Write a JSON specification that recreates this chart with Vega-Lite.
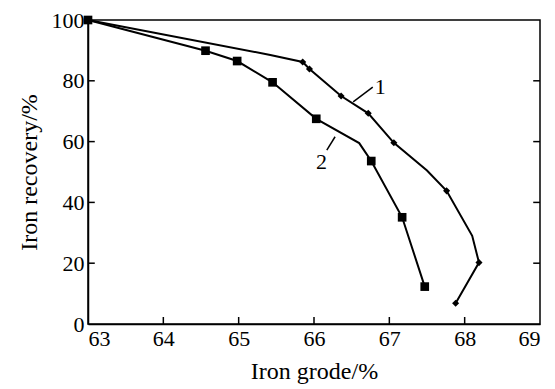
{
  "$schema": "https://vega.github.io/schema/vega-lite/v6.json",
  "width": 452,
  "height": 304,
  "autosize": "none",
  "padding": {"left": 88, "top": 20, "right": 15, "bottom": 65},
  "background": "white",
  "config": {
    "view": {"stroke": "black", "strokeWidth": 1.5},
    "font": "Liberation Serif",
    "axis": {
      "domainColor": "black", "domainWidth": 1.5, "ticks": false,
      "grid": false, "labelFont": "Liberation Serif", "labelFontSize": 22, "labelColor": "black",
      "titleFont": "Liberation Serif", "titleFontSize": 24, "titleFontWeight": "normal", "titleColor": "black"
    }
  },
  "datasets": {
    "c1": [
      {"x": 63.0, "y": 100.0, "m": 1},
      {"x": 65.42, "y": 88.5, "m": 0},
      {"x": 65.85, "y": 86.2, "m": 1},
      {"x": 65.94, "y": 83.9, "m": 1},
      {"x": 66.36, "y": 75.0, "m": 1},
      {"x": 66.72, "y": 69.3, "m": 1},
      {"x": 67.06, "y": 59.6, "m": 1},
      {"x": 67.5, "y": 50.5, "m": 0},
      {"x": 67.76, "y": 43.8, "m": 1},
      {"x": 68.1, "y": 29.0, "m": 0},
      {"x": 68.19, "y": 20.2, "m": 1},
      {"x": 68.0, "y": 12.0, "m": 0},
      {"x": 67.88, "y": 6.8, "m": 1}
    ],
    "c2": [
      {"x": 63.0, "y": 100.0, "m": 1},
      {"x": 64.56, "y": 89.9, "m": 1},
      {"x": 64.98, "y": 86.5, "m": 1},
      {"x": 65.45, "y": 79.5, "m": 1},
      {"x": 66.03, "y": 67.5, "m": 1},
      {"x": 66.6, "y": 59.5, "m": 0},
      {"x": 66.76, "y": 53.6, "m": 1},
      {"x": 67.17, "y": 35.1, "m": 1},
      {"x": 67.47, "y": 12.3, "m": 1}
    ],
    "labels": [
      {"x": 66.88, "y": 75.7, "t": "1"},
      {"x": 66.1, "y": 51.0, "t": "2"}
    ],
    "leaders": [
      {"x": 66.52, "y": 73.1, "x2": 66.78, "y2": 77.9},
      {"x": 66.17, "y": 57.2, "x2": 66.28, "y2": 61.6}
    ],
    "ticks": [
      {"x": 64, "y": 0, "x2": 64, "y2": 2.3},
      {"x": 65, "y": 0, "x2": 65, "y2": 2.3},
      {"x": 66, "y": 0, "x2": 66, "y2": 2.3},
      {"x": 67, "y": 0, "x2": 67, "y2": 2.3},
      {"x": 68, "y": 0, "x2": 68, "y2": 2.3},
      {"x": 63, "y": 20, "x2": 63.09, "y2": 20},
      {"x": 63, "y": 40, "x2": 63.09, "y2": 40},
      {"x": 63, "y": 60, "x2": 63.09, "y2": 60},
      {"x": 63, "y": 80, "x2": 63.09, "y2": 80},
      {"x": 68.91, "y": 20, "x2": 69, "y2": 20},
      {"x": 68.91, "y": 40, "x2": 69, "y2": 40},
      {"x": 68.91, "y": 60, "x2": 69, "y2": 60},
      {"x": 68.91, "y": 80, "x2": 69, "y2": 80}
    ]
  },
  "layer": [
    {
      "data": {"name": "c1"},
      "mark": {"type": "line", "color": "black", "strokeWidth": 2, "interpolate": "linear"},
      "encoding": {
        "x": {"field": "x", "type": "quantitative", "scale": {"domain": [63, 69], "nice": false, "zero": false},
              "axis": {"title": "Iron grode/%", "values": [63, 64, 65, 66, 67, 68, 69], "format": "d", "labelPadding": 4, "titlePadding": 10}},
        "y": {"field": "y", "type": "quantitative", "scale": {"domain": [0, 100], "nice": false},
              "axis": {"title": "Iron recovery/%", "values": [0, 20, 40, 60, 80, 100], "format": "d", "labelPadding": 4, "titlePadding": 10}},
        "order": {"field": "__i", "type": "quantitative"}
      }
    },
    {
      "data": {"name": "ticks"},
      "mark": {"type": "rule", "color": "black", "strokeWidth": 1.5},
      "encoding": {
        "x": {"field": "x", "type": "quantitative"},
        "y": {"field": "y", "type": "quantitative"},
        "x2": {"field": "x2"},
        "y2": {"field": "y2"}
      }
    },
    {
      "data": {"name": "c1"},
      "transform": [{"filter": "datum.m == 1"}],
      "mark": {"type": "point", "shape": "diamond", "filled": true, "color": "black", "size": 50, "opacity": 1},
      "encoding": {
        "x": {"field": "x", "type": "quantitative"},
        "y": {"field": "y", "type": "quantitative"}
      }
    },
    {
      "data": {"name": "c2"},
      "mark": {"type": "line", "color": "black", "strokeWidth": 2},
      "encoding": {
        "x": {"field": "x", "type": "quantitative"},
        "y": {"field": "y", "type": "quantitative"},
        "order": {"field": "__i", "type": "quantitative"}
      }
    },
    {
      "data": {"name": "c2"},
      "transform": [{"filter": "datum.m == 1"}],
      "mark": {"type": "point", "shape": "square", "filled": true, "color": "black", "size": 75, "opacity": 1},
      "encoding": {
        "x": {"field": "x", "type": "quantitative"},
        "y": {"field": "y", "type": "quantitative"}
      }
    },
    {
      "data": {"name": "leaders"},
      "mark": {"type": "rule", "color": "black", "strokeWidth": 1.5},
      "encoding": {
        "x": {"field": "x", "type": "quantitative"},
        "y": {"field": "y", "type": "quantitative"},
        "x2": {"field": "x2"},
        "y2": {"field": "y2"}
      }
    },
    {
      "data": {"name": "labels"},
      "mark": {"type": "text", "color": "black", "fontSize": 22, "font": "Liberation Serif", "align": "center", "baseline": "alphabetic"},
      "encoding": {
        "x": {"field": "x", "type": "quantitative"},
        "y": {"field": "y", "type": "quantitative"},
        "text": {"field": "t"}
      }
    }
  ]
}
